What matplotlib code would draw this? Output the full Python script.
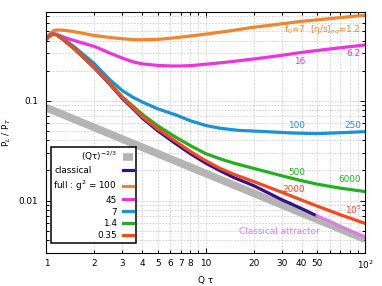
import matplotlib
matplotlib.use("Agg")
import matplotlib.pyplot as plt
from matplotlib.ticker import FixedLocator, FixedFormatter, NullFormatter

FS = 6.4
plt.rcParams["font.family"] = ["DejaVu Sans"]
plt.rcParams["font.size"] = FS

# DATA

gray_x = [1.0, 100.0]
gray_y = [0.085, 0.0041]

classical_x = [1.0, 1.05, 1.1, 1.15, 1.25, 1.5, 2.0, 2.5, 3.0, 3.5, 4.0, 5.0, 6.5, 8.0, 10, 12.3, 15, 20, 25, 30, 40, 50]
classical_y = [0.417, 0.45, 0.465, 0.46, 0.42, 0.33, 0.213, 0.146, 0.105, 0.083, 0.067, 0.050, 0.037, 0.0295,
               0.0237, 0.0199, 0.0170, 0.0141, 0.0118, 0.0102, 0.0083, 0.0070]

attractor_x = [50, 60, 70, 80, 90, 100]
attractor_y = [0.0070, 0.0062, 0.0055, 0.0050, 0.0046, 0.0043]

orange_x = [1.0, 1.04, 1.1, 1.15, 1.25, 1.4, 1.6, 2.0, 2.5, 3.0, 3.5, 4.0, 5.0, 6.0, 8.0, 10, 14, 20, 30, 40, 60, 80, 100]
orange_y = [0.417, 0.46, 0.50, 0.512, 0.51, 0.50, 0.482, 0.450, 0.43, 0.418, 0.41, 0.408, 0.412, 0.423, 0.445,
            0.465, 0.50, 0.545, 0.59, 0.625, 0.665, 0.695, 0.72]

magenta_x = [1.0, 1.04, 1.08, 1.15, 1.3, 1.5, 1.75, 2.0, 2.5, 3.0, 3.5, 4.0, 5.0, 6.0, 7.0, 8.0, 10, 14, 20, 30, 40, 60, 80, 100]
magenta_y = [0.417, 0.45, 0.47, 0.465, 0.43, 0.40, 0.372, 0.35, 0.30, 0.267, 0.245, 0.234, 0.226, 0.223, 0.223,
             0.225, 0.232, 0.245, 0.262, 0.285, 0.305, 0.33, 0.348, 0.362]

blue_x = [1.0, 1.05, 1.1, 1.15, 1.25, 1.5, 2.0, 2.5, 3.0, 3.5, 4.0, 5.0, 6.5, 8.0, 10, 12.3, 16, 24, 35, 50, 70, 100]
blue_y = [0.417, 0.45, 0.465, 0.46, 0.43, 0.345, 0.235, 0.162, 0.126, 0.108, 0.097, 0.083, 0.072, 0.063, 0.0565,
          0.053, 0.0505, 0.049, 0.0475, 0.0468, 0.0478, 0.049]

green_x = [1.0, 1.05, 1.1, 1.15, 1.25, 1.5, 2.0, 2.5, 3.0, 3.5, 4.0, 5.0, 6.5, 8.0, 10, 12.3, 15, 20, 30, 40, 50, 70, 100]
green_y = [0.417, 0.45, 0.465, 0.46, 0.42, 0.33, 0.216, 0.15, 0.109, 0.088, 0.073, 0.056, 0.043, 0.0355, 0.0295,
           0.0262, 0.0237, 0.0210, 0.0177, 0.0158, 0.0146, 0.0133, 0.0123]

red_x = [1.0, 1.05, 1.1, 1.15, 1.25, 1.5, 2.0, 2.5, 3.0, 3.5, 4.0, 5.0, 6.5, 8.0, 10, 12.3, 15, 20, 30, 40, 50, 70, 100]
red_y = [0.417, 0.45, 0.465, 0.46, 0.42, 0.33, 0.215, 0.148, 0.107, 0.085, 0.069, 0.052, 0.039, 0.031, 0.0250,
         0.0210, 0.0183, 0.0155, 0.0121, 0.0101, 0.0088, 0.0072, 0.0059]

legend_labels = ["(Qτ)$^{-2/3}$", "classical", "full : g$^2$ = 100", "45", "7", "1.4", "0.35"]

# curve annotations: (x, y, text, colour key, alignment)
notes = [
    (94, 0.51, "f$_0$=7  [η/s]$_{eq}$=1.2", "orange", "right"),
    (39, 0.247, "16", "magenta", "center"),
    (85, 0.295, "6.2", "magenta", "center"),
    (37.4, 0.0566, "100", "blue", "center"),
    (84, 0.0566, "250", "blue", "center"),
    (37.4, 0.019, "500", "green", "center"),
    (80, 0.0162, "6000", "green", "center"),
    (35.8, 0.0129, "2000", "red", "center"),
    (84, 0.0081, "10$^5$", "red", "center"),
    (29.2, 0.0049, "Classical attractor", "attractor", "center"),
]

colors = {
    "gray": "#b4b4b4",
    "classical": "#36108a",
    "orange": "#f0852e",
    "magenta": "#ee33dd",
    "blue": "#1a92d8",
    "green": "#22b022",
    "red": "#f04a1e",
    "attractor": "#dd80dd",
}

# PLOT

fig = plt.figure(figsize=(3.82, 2.86), dpi=100)
ax = fig.add_axes([0.1217, 0.1164, 0.8338, 0.8426])

lw = 2.3
h_gray, = ax.plot(gray_x, gray_y, color=colors["gray"], lw=5.5, solid_capstyle="butt")
h_cl, = ax.plot(classical_x, classical_y, color=colors["classical"], lw=lw)
h_or, = ax.plot(orange_x, orange_y, color=colors["orange"], lw=lw)
h_ma, = ax.plot(magenta_x, magenta_y, color=colors["magenta"], lw=lw)
h_bl, = ax.plot(blue_x, blue_y, color=colors["blue"], lw=lw)
h_gr, = ax.plot(green_x, green_y, color=colors["green"], lw=lw)
h_re, = ax.plot(red_x, red_y, color=colors["red"], lw=lw)
ax.plot(attractor_x, attractor_y, color=colors["attractor"], lw=lw)

for x, y, s, c, ha in notes:
    ax.text(x, y, s, color=colors[c], ha=ha, va="center", fontsize=FS)

ax.set_xscale("log")
ax.set_yscale("log")
ax.set_xlim(1, 100)
ax.set_ylim(0.003, 0.78)

ax.xaxis.set_major_locator(FixedLocator([1, 10, 100]))
ax.xaxis.set_major_formatter(FixedFormatter(["1", "10", "10$^2$"]))
minor_x = [2, 3, 4, 5, 6, 7, 8, 9, 20, 30, 40, 50, 60, 70, 80, 90]
minor_x_lab = ["2", "3", "4", "5", "6", "7", "8", "", "20", "30", "40", "50", "", "", "", ""]
ax.xaxis.set_minor_locator(FixedLocator(minor_x))
ax.xaxis.set_minor_formatter(FixedFormatter(minor_x_lab))

ax.yaxis.set_major_locator(FixedLocator([0.01, 0.1]))
ax.yaxis.set_major_formatter(FixedFormatter(["0.01", "0.1"]))
minor_y = [0.003, 0.004, 0.005, 0.006, 0.007, 0.008, 0.009,
           0.02, 0.03, 0.04, 0.05, 0.06, 0.07, 0.08, 0.09,
           0.2, 0.3, 0.4, 0.5, 0.6, 0.7]
ax.yaxis.set_minor_locator(FixedLocator(minor_y))
ax.yaxis.set_minor_formatter(NullFormatter())

ax.tick_params(which="both", direction="in", top=True, right=True, labelsize=FS, width=0.7)
ax.tick_params(which="major", length=3.5)
ax.tick_params(which="minor", length=2)
ax.tick_params(axis="y", which="both", pad=6)
ax.tick_params(axis="x", which="both", pad=4.5)
ax.grid(True, which="both", color="#c4c4c4", ls=(0, (2.5, 2)), lw=0.5)
for s in ax.spines.values():
    s.set_linewidth(0.8)

ax.set_xlabel("Q τ", fontsize=FS, labelpad=3)
ax.set_ylabel("P$_L$ / P$_T$", fontsize=FS, labelpad=4)

leg = ax.legend(
    [h_gray, h_cl, h_or, h_ma, h_bl, h_gr, h_re],
    legend_labels,
    loc="lower left",
    bbox_to_anchor=(0.013, 0.04),
    borderaxespad=0,
    markerfirst=False,
    fancybox=False,
    framealpha=1,
    edgecolor="black",
    fontsize=FS,
    handlelength=1.2,
    handletextpad=0.65,
    labelspacing=0.33,
    borderpad=0.3,
)
leg.get_frame().set_linewidth(1.1)
for col in leg._legend_handle_box.get_children():
    col.align = "right"

# "classical" sits flush left in the key, the numbers flush right
fig.canvas.draw()
texts = leg.get_texts()
shift = texts[2].get_window_extent().width - texts[1].get_window_extent().width
texts[1].set_x(-shift + 1.5)

fig.savefig("out.png", dpi=100)
